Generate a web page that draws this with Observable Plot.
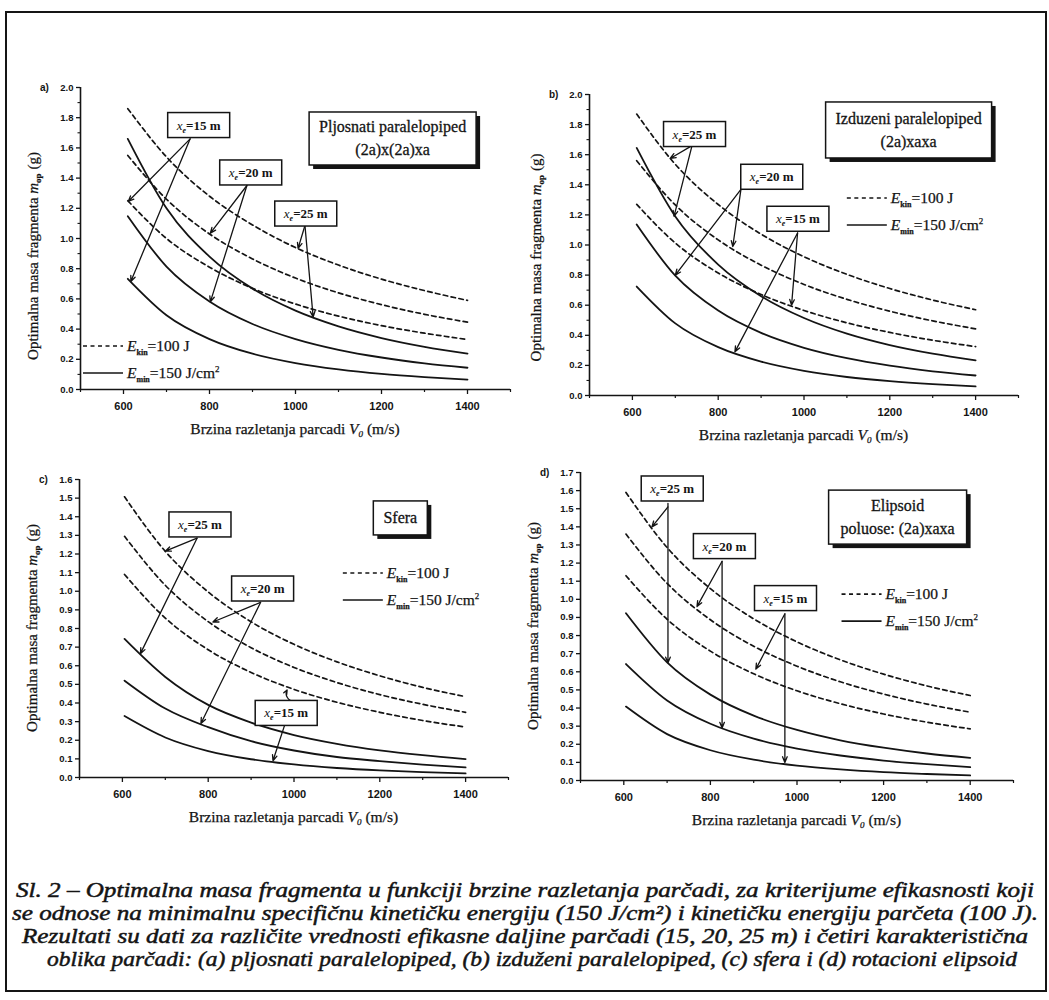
<!DOCTYPE html>
<html>
<head>
<meta charset="utf-8">
<script src="https://cdn.jsdelivr.net/npm/d3@7"></script>
<script src="https://cdn.jsdelivr.net/npm/@observablehq/plot@0.6"></script>
<style>
  body { margin: 0; background: #fff; }
  #root { position: relative; width: 1049px; height: 1000px; background: #fff; overflow: hidden; }
  .panel { position: absolute; }
  #frame { position: absolute; left: 5px; top: 11px; width: 1042px; height: 981px; box-sizing: border-box; border: 2.5px solid #151515; }
  #caption { position: absolute; left: 0; top: 860px; }
</style>
</head>
<body>
<div id="root"><div id="frame"></div></div>
<script>
// ---------------- data ----------------
const xsAB = [610, 700, 800, 900, 1000, 1100, 1200, 1300, 1400];
const xsCD = [605, 700, 800, 900, 1000, 1100, 1200, 1300, 1400];

// (a) pljosnati paralelopiped
const aKin25  = [1.86, 1.54, 1.28, 1.09, 0.94, 0.824, 0.731, 0.655, 0.59];
const aKin20  = [1.55, 1.26, 1.03, 0.865, 0.738, 0.64, 0.562, 0.498, 0.446];
const aKin15  = [1.25, 1.00, 0.81, 0.67, 0.566, 0.486, 0.423, 0.373, 0.331];
const aSpec25 = [1.66, 1.20, 0.88, 0.668, 0.522, 0.418, 0.341, 0.283, 0.238];
const aSpec20 = [1.148, 0.814, 0.583, 0.434, 0.334, 0.263, 0.212, 0.173, 0.144];
const aSpec15 = [0.733, 0.492, 0.334, 0.237, 0.175, 0.133, 0.103, 0.082, 0.066];
// (b) izduzeni paralelopiped
const bKin25  = [1.87, 1.536, 1.269, 1.072, 0.922, 0.805, 0.711, 0.634, 0.57];
const bKin20  = [1.56, 1.266, 1.034, 0.866, 0.738, 0.639, 0.56, 0.496, 0.443];
const bKin15  = [1.27, 1.013, 0.814, 0.671, 0.565, 0.483, 0.419, 0.367, 0.325];
const bSpec25 = [1.645, 1.19, 0.87, 0.66, 0.515, 0.411, 0.335, 0.278, 0.234];
const bSpec20 = [1.136, 0.796, 0.564, 0.416, 0.317, 0.248, 0.198, 0.161, 0.133];
const bSpec15 = [0.724, 0.479, 0.321, 0.225, 0.164, 0.123, 0.095, 0.075, 0.06];
// (c) sfera
const cKin25  = [1.507, 1.214, 0.996, 0.836, 0.715, 0.621, 0.546, 0.484, 0.434];
const cKin20  = [1.295, 1.032, 0.837, 0.697, 0.591, 0.51, 0.445, 0.393, 0.35];
const cKin15  = [1.09, 0.856, 0.686, 0.564, 0.473, 0.404, 0.35, 0.306, 0.271];
const cSpec25 = [0.744, 0.54, 0.39, 0.295, 0.228, 0.181, 0.146, 0.12, 0.099];
const cSpec20 = [0.52, 0.37, 0.27, 0.195, 0.145, 0.11, 0.088, 0.069, 0.054];
const cSpec15 = [0.33, 0.215, 0.142, 0.098, 0.07, 0.051, 0.038, 0.029, 0.022];
// (d) elipsoid
const dKin25  = [1.59, 1.286, 1.059, 0.892, 0.765, 0.666, 0.587, 0.522, 0.469];
const dKin20  = [1.36, 1.088, 0.887, 0.741, 0.631, 0.545, 0.477, 0.422, 0.377];
const dKin15  = [1.13, 0.89, 0.714, 0.589, 0.495, 0.424, 0.367, 0.322, 0.285];
const dSpec25 = [0.923, 0.652, 0.474, 0.358, 0.279, 0.222, 0.181, 0.149, 0.125];
const dSpec20 = [0.643, 0.442, 0.313, 0.231, 0.176, 0.138, 0.11, 0.09, 0.074];
const dSpec15 = [0.408, 0.256, 0.167, 0.115, 0.082, 0.061, 0.046, 0.036, 0.028];

// tick values
const xTickLabels = [600, 800, 1000, 1200, 1400];
const xTickMinor  = [500, 700, 900, 1100, 1300, 1500];
const yTicksAB    = [0, 0.2, 0.4, 0.6, 0.8, 1.0, 1.2, 1.4, 1.6, 1.8, 2.0];
const yMinorAB    = [0.1, 0.3, 0.5, 0.7, 0.9, 1.1, 1.3, 1.5, 1.7, 1.9];
const yTicksC     = [0, 0.1, 0.2, 0.3, 0.4, 0.5, 0.6, 0.7, 0.8, 0.9, 1.0, 1.1, 1.2, 1.3, 1.4, 1.5, 1.6];
const yTicksD     = [0, 0.1, 0.2, 0.3, 0.4, 0.5, 0.6, 0.7, 0.8, 0.9, 1.0, 1.1, 1.2, 1.3, 1.4, 1.5, 1.6, 1.7];

// distance labels
const distances = ["25", "20", "15"];
const shapeTitles = {
  a: ["Pljosnati paralelopiped", "(2a)x(2a)xa"],
  b: ["Izduzeni paralelopiped", "(2a)xaxa"],
  c: ["Sfera"],
  d: ["Elipsoid", "poluose: (2a)xaxa"]
};
const legendKin = ["kin", "=100 J"];
const legendSpec = ["min", "=150 J/cm", "2"];

// annotation anchors (data coordinates)
const aBoxes  = [{x: 776, y: 1.748, d: "15"}, {x: 897, y: 1.434, d: "20"}, {x: 1025, y: 1.162, d: "25"}];
const aArrows = [
  {x1: 755, y1: 1.66, x2: 611, y2: 1.245}, {x1: 755, y1: 1.66, x2: 617, y2: 0.715},
  {x1: 887, y1: 1.351, x2: 802, y2: 1.035}, {x1: 887, y1: 1.351, x2: 802, y2: 0.58},
  {x1: 1022, y1: 1.086, x2: 1006, y2: 0.935}, {x1: 1022, y1: 1.086, x2: 1041, y2: 0.48}
];
const bBoxes  = [{x: 746, y: 1.734, d: "25"}, {x: 926, y: 1.45, d: "20"}, {x: 987, y: 1.171, d: "15"}];
const bArrows = [
  {x1: 739, y1: 1.66, x2: 688, y2: 1.575}, {x1: 739, y1: 1.66, x2: 697, y2: 1.19},
  {x1: 853, y1: 1.37, x2: 834, y2: 0.99}, {x1: 853, y1: 1.37, x2: 700, y2: 0.80},
  {x1: 985, y1: 1.08, x2: 971, y2: 0.60}, {x1: 985, y1: 1.08, x2: 839, y2: 0.29}
];
const cBoxes  = [{x: 782, y: 1.356, d: "25"}, {x: 928, y: 1.012, d: "20"}, {x: 983, y: 0.344, d: "15"}];
const cArrows = [
  {x1: 774, y1: 1.285, x2: 700, y2: 1.215}, {x1: 774, y1: 1.285, x2: 642, y2: 0.665},
  {x1: 922, y1: 0.94, x2: 811, y2: 0.835}, {x1: 922, y1: 0.94, x2: 783, y2: 0.29},
  {x1: 978, y1: 0.28, x2: 951, y2: 0.09}
];
const cCurlArrows = [{x1: 1000, y1: 0.41, x2: 984, y2: 0.47}];
const dBoxes  = [{x: 713, y: 1.609, d: "25"}, {x: 833.5, y: 1.291, d: "20"}, {x: 974.6, y: 1.004, d: "15"}];
const dArrows = [
  {x1: 702, y1: 1.53, x2: 702, y2: 0.65}, {x1: 702, y1: 1.51, x2: 665, y2: 1.40},
  {x1: 827, y1: 1.21, x2: 827, y2: 0.29}, {x1: 827, y1: 1.21, x2: 769, y2: 0.96},
  {x1: 972, y1: 0.92, x2: 972, y2: 0.10}, {x1: 972, y1: 0.92, x2: 905, y2: 0.615}
];

const captionLines = [
  "Sl. 2 – Optimalna masa fragmenta u funkciji brzine razletanja parčadi, za kriterijume efikasnosti koji",
  "se odnose na minimalnu specifičnu kinetičku energiju (150 J/cm²) i kinetičku energiju parčeta (100 J).",
  "Rezultati su dati za različite vrednosti efikasne daljine parčadi (15, 20, 25 m) i četiri karakteristična",
  "oblika parčadi: (a) pljosnati paralelopiped, (b) izduženi paralelopiped, (c) sfera i (d) rotacioni elipsoid"
];

// ---------------- layout ----------------
const INK = "#141414";
const SERIF = "'Liberation Serif', 'Times New Roman', serif";
const SANS = "'Liberation Sans', Arial, sans-serif";

const panels = [
  {id: "a", left: 10, top: 75, width: 510, height: 370, mL: 70, mR: 10, mT: 12, mB: 56, ymax: 2.0,
   xs: xsAB, kin: [aKin25, aKin20, aKin15], spec: [aSpec25, aSpec20, aSpec15],
   yTicks: yTicksAB, yMinor: yMinorAB, boxes: aBoxes, arrows: aArrows, curl: [],
   title: {x: 1227, y: 1.659, w: 167, h: 53}, legend: {x: 507, y: 0.285}, yTitleShift: 18},
  {id: "b", left: 525, top: 75, width: 505, height: 370, mL: 64, mR: 12, mT: 19, mB: 50, ymax: 2.0,
   xs: xsAB, kin: [bKin25, bKin20, bKin15], spec: [bSpec25, bSpec20, bSpec15],
   yTicks: yTicksAB, yMinor: yMinorAB, boxes: bBoxes, arrows: bArrows, curl: [],
   title: {x: 1245, y: 1.761, w: 166, h: 56}, legend: {x: 1101, y: 1.309}, yTitleShift: 13},
  {id: "c", left: 10, top: 455, width: 510, height: 375, mL: 69, mR: 12, mT: 24, mB: 53, ymax: 1.6,
   xs: xsCD, kin: [cKin25, cKin20, cKin15], spec: [cSpec25, cSpec20, cSpec15],
   yTicks: yTicksC, yMinor: [], boxes: cBoxes, arrows: cArrows, curl: cCurlArrows,
   title: {x: 1249, y: 1.391, w: 54, h: 34}, legend: {x: 1115, y: 1.095}, yTitleShift: 0},
  {id: "d", left: 525, top: 455, width: 505, height: 375, mL: 55, mR: 17, mT: 17, mB: 50, ymax: 1.7,
   xs: xsCD, kin: [dKin25, dKin20, dKin15], spec: [dSpec25, dSpec20, dSpec15],
   yTicks: yTicksD, yMinor: [], boxes: dBoxes, arrows: dArrows, curl: [],
   title: {x: 1233.5, y: 1.451, w: 138, h: 54}, legend: {x: 1104, y: 1.026}, yTitleShift: 0}
];

function seriesRows(p) {
  const rows = [];
  p.kin.forEach((vals, k) => vals.forEach((v, i) => rows.push({x: p.xs[i], y: v, key: "kin" + distances[k], dashed: true})));
  p.spec.forEach((vals, k) => vals.forEach((v, i) => rows.push({x: p.xs[i], y: v, key: "spec" + distances[k], dashed: false})));
  return rows;
}

function txt(g, x, y, opts = {}) {
  const t = g.append("text").attr("x", x).attr("y", y).attr("fill", INK)
    .attr("font-family", opts.family || SERIF).attr("font-size", opts.size || 13)
    .attr("text-anchor", opts.anchor || "start");
  if (opts.weight) t.attr("font-weight", opts.weight);
  if (opts.transform) t.attr("transform", opts.transform);
  if (opts.stroke) t.attr("stroke", INK).attr("stroke-width", opts.stroke);
  return t;
}

function annotations(p) {
  return (index, scales, values, dim) => {
    const X = scales.x, Y = scales.y;
    const g = d3.create("svg:g");
    // x_e boxes
    const bw = 62, bh = 25;
    for (const b of p.boxes) {
      const cx = X(b.x), cy = Y(b.y);
      g.append("rect").attr("x", cx - bw / 2).attr("y", cy - bh / 2).attr("width", bw).attr("height", bh)
        .attr("fill", "#fff").attr("stroke", INK).attr("stroke-width", 1.5);
      const t = txt(g, cx, cy + 4.5, {size: 13, anchor: "middle", weight: "bold"});
      t.append("tspan").attr("font-style", "italic").attr("font-weight", "normal").text("x");
      t.append("tspan").attr("font-size", 8).attr("dy", 3).attr("font-style", "italic").text("e");
      t.append("tspan").attr("dy", -3).text("=" + b.d + " m");
    }
    // shape title box with shadow
    {
      const T = p.title, cx = X(T.x), cy = Y(T.y);
      g.append("rect").attr("x", cx - T.w / 2 + 4).attr("y", cy - T.h / 2 + 4).attr("width", T.w).attr("height", T.h).attr("fill", INK);
      g.append("rect").attr("x", cx - T.w / 2).attr("y", cy - T.h / 2).attr("width", T.w).attr("height", T.h)
        .attr("fill", "#fff").attr("stroke", INK).attr("stroke-width", 1.5);
      const lines = shapeTitles[p.id];
      const lh = 23;
      lines.forEach((s, i) => {
        const y0 = cy + 5.5 + (i - (lines.length - 1) / 2) * lh;
        txt(g, cx, y0, {size: 16, anchor: "middle", stroke: 0.3}).text(s);
      });
    }
    // legend
    {
      const L = p.legend, lx = X(L.x), ly = Y(L.y);
      g.append("line").attr("x1", lx).attr("x2", lx + 40).attr("y1", ly).attr("y2", ly)
        .attr("stroke", INK).attr("stroke-width", 1.6).attr("stroke-dasharray", "4,3.5");
      let t = txt(g, lx + 44, ly + 5, {size: 15.5, stroke: 0.25});
      t.append("tspan").attr("font-style", "italic").text("E");
      t.append("tspan").attr("font-size", 8).attr("dy", 4).attr("font-weight", "bold").text(legendKin[0]);
      t.append("tspan").attr("dy", -4).text(legendKin[1]);
      const ly2 = ly + 27;
      g.append("line").attr("x1", lx).attr("x2", lx + 40).attr("y1", ly2).attr("y2", ly2)
        .attr("stroke", INK).attr("stroke-width", 1.6);
      t = txt(g, lx + 44, ly2 + 5, {size: 15.5, stroke: 0.25});
      t.append("tspan").attr("font-style", "italic").text("E");
      t.append("tspan").attr("font-size", 8).attr("dy", 4).attr("font-weight", "bold").text(legendSpec[0]);
      t.append("tspan").attr("dy", -4).text(legendSpec[1]);
      t.append("tspan").attr("font-size", 9).attr("dy", -6).text(legendSpec[2]);
    }
    // axis titles
    {
      const left = dim.marginLeft, right = dim.width - dim.marginRight;
      const top = dim.marginTop, bottom = dim.height - dim.marginBottom;
      const t = txt(g, (left + right) / 2, bottom + 45, {size: 15.5, anchor: "middle", stroke: 0.25});
      t.append("tspan").text("Brzina razletanja parcadi ");
      t.append("tspan").attr("font-style", "italic").text("V");
      t.append("tspan").attr("font-size", 9).attr("dy", 3).attr("font-style", "italic").text("0");
      t.append("tspan").attr("dy", -3).text(" (m/s)");
      const ycx = left - (p.id === "b" ? 52 : 46) + 4, ycy = (top + bottom) / 2 + p.yTitleShift;
      const ty = txt(g, 0, 0, {size: 15, anchor: "middle", stroke: 0.25, transform: `translate(${ycx},${ycy}) rotate(-90)`});
      ty.append("tspan").text("Optimalna masa fragmenta ");
      ty.append("tspan").attr("font-style", "italic").text("m");
      ty.append("tspan").attr("font-size", 9).attr("dy", 3).attr("font-weight", "bold").text("op");
      ty.append("tspan").attr("dy", -3).text(" (g)");
      txt(g, left - 40, top + 4, {size: 10, family: SANS, weight: "bold"}).text(p.id + ")");
    }
    return g.node();
  };
}

const root = document.getElementById("root");

for (const p of panels) {
  const rows = seriesRows(p);
  const chart = Plot.plot({
    width: p.width,
    height: p.height,
    marginLeft: p.mL, marginRight: p.mR, marginTop: p.mT, marginBottom: p.mB,
    x: {domain: [500, 1500]},
    y: {domain: [0, p.ymax]},
    style: {background: "transparent", color: INK, fontFamily: SANS, overflow: "visible"},
    marks: [
      Plot.line(rows.filter(d => d.dashed), {x: "x", y: "y", z: "key", stroke: INK, strokeWidth: 1.7, strokeDasharray: "4.5,3.5", curve: "monotone-x"}),
      Plot.line(rows.filter(d => !d.dashed), {x: "x", y: "y", z: "key", stroke: INK, strokeWidth: 1.8, curve: "monotone-x"}),
      Plot.arrow(p.arrows, {x1: "x1", y1: "y1", x2: "x2", y2: "y2", stroke: INK, strokeWidth: 1.3, headLength: 7, headAngle: 45}),
      Plot.arrow(p.curl, {x1: "x1", y1: "y1", x2: "x2", y2: "y2", stroke: INK, strokeWidth: 1.3, headLength: 6, headAngle: 45, bend: 60}),
      Plot.ruleY([0], {stroke: INK, strokeWidth: 1.6}),
      Plot.ruleX([500], {stroke: INK, strokeWidth: 1.6}),
      Plot.axisX({ticks: xTickLabels, tickSize: 5, tickPadding: 8, fontSize: 11, fontWeight: "bold", strokeWidth: 1.3, label: null, tickFormat: d => String(d)}),
      Plot.axisX({ticks: xTickMinor, tickSize: 3, strokeWidth: 1.2, label: null, tickFormat: () => ""}),
      Plot.axisY({ticks: p.yTicks, tickSize: 4, tickPadding: 3, fontSize: 9.5, fontWeight: "bold", strokeWidth: 1.3, label: null, tickFormat: d3.format(".1f")}),
      ...(p.yMinor.length ? [Plot.axisY({ticks: p.yMinor, tickSize: 2.5, strokeWidth: 1.1, label: null, tickFormat: () => ""})] : []),
      annotations(p)
    ]
  });
  chart.classList.add("panel");
  chart.style.left = p.left + "px";
  chart.style.top = p.top + "px";
  root.appendChild(chart);
}

// caption
const capSpans = [[16, 1034], [12, 1038], [22, 1028], [47, 1017]];
const capBase = [37, 60, 83, 106];
const cap = d3.create("svg").attr("id", "caption").attr("width", 1049).attr("height", 130);
captionLines.forEach((s, i) => {
  const [a, b] = capSpans[i];
  cap.append("text").attr("x", a).attr("y", capBase[i]).attr("textLength", b - a).attr("lengthAdjust", "spacingAndGlyphs")
    .attr("font-family", SERIF).attr("font-style", "italic").attr("font-size", 21.5).attr("fill", INK)
    .attr("stroke", INK).attr("stroke-width", 0.5).text(s);
});
root.appendChild(cap.node());
</script>
</body>
</html>
